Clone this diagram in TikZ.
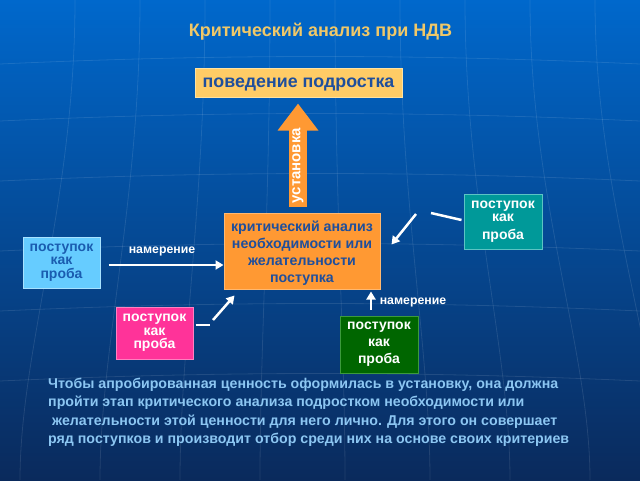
\documentclass[tikz,border=0pt]{standalone}
\usepackage{fontspec}
\setmainfont{Liberation Sans}
\usetikzlibrary{arrows.meta,calc}
\definecolor{bgtop}{HTML}{0068CC}
\definecolor{bgmid}{HTML}{0050A6}
\definecolor{bgbot}{HTML}{0A2A5C}
\definecolor{titlecol}{HTML}{F0C868}
\definecolor{behfill}{HTML}{FFCC66}
\definecolor{behdraw}{HTML}{FFE2A0}
\definecolor{behtext}{HTML}{1F4F9C}
\definecolor{orangefill}{HTML}{FF9933}
\definecolor{orangedraw}{HTML}{FFB870}
\definecolor{lbfill}{HTML}{66CCFF}
\definecolor{lbdraw}{HTML}{A8E2FF}
\definecolor{lbtext}{HTML}{1A5CB0}
\definecolor{pinkfill}{HTML}{FF3399}
\definecolor{pinkdraw}{HTML}{FF80C0}
\definecolor{tealfill}{HTML}{009999}
\definecolor{tealdraw}{HTML}{5CC4C4}
\definecolor{greenfill}{HTML}{006600}
\definecolor{greendraw}{HTML}{3C9A3C}
\definecolor{paracol}{HTML}{8CC6F2}
\begin{document}
\begin{tikzpicture}[x=1pt,y=-1pt,
  box/.style={line width=1pt, inner sep=0pt, align=center},
  warrow/.style={draw=white, line width=2.5pt, -{Triangle[length=8pt,width=9pt]}},
  wline/.style={draw=white, line width=2.5pt},
  lbl/.style={text=white, font=\bfseries\fontsize{12.3}{14}\selectfont, inner sep=0pt},
  gridline/.style={draw=white, opacity=0.10, line width=0.8pt},
]
\useasboundingbox (0,0) rectangle (640,480);
\shade[top color=bgtop, middle color=bgmid, bottom color=bgbot] (0,0) rectangle (640,480);
% faint background grid
\foreach \yy in {58,115,175,245,305,375} {
  \draw[gridline] (0,\yy+6) .. controls (220,\yy-4) and (420,\yy-4) .. (640,\yy+6);
}
\foreach \xx/\bx in {75/20,140/100,205/180,270/260,335/345,400/430,465/510,530/590,595/660} {
  \draw[gridline] (\xx,0) .. controls (\xx,200) and (\bx,350) .. (\bx,480);
}

% title
\node[text=titlecol, font=\bfseries\fontsize{18}{20}\selectfont, inner sep=0pt] (title) at (320.5,32) {Критический анализ при НДВ};

% behaviour box
\node[box, fill=behfill, draw=behdraw, minimum width=207pt, minimum height=29pt, text depth=0pt,
      text=behtext, font=\bfseries\fontsize{17.8}{20}\selectfont] (beh) at (298.5,82.5) {поведение подростка};

% central box
\node[box, fill=orangefill, draw=orangedraw, minimum width=156pt, minimum height=76pt] (crit) at (302,251) {};
\node[align=center, inner sep=0pt, text=behtext, font=\bfseries\fontsize{14.2}{17}\selectfont]
      (crittext) at ([yshift=-2pt]crit.center)
      {критический анализ\\необходимости или\\желательности\\поступка};

% big arrow "установка"
\coordinate (ustart) at (298,207);
\draw[orangefill, line width=18pt, -{Triangle[length=27pt,width=39pt]}]
  (ustart) -- ([yshift=-6pt]beh.south -| ustart)
  node[pos=0.40, rotate=90, text=white, font=\bfseries\fontsize{15}{16}\selectfont, inner sep=0pt] (ust) {установка};

% side boxes
\node[box, fill=lbfill, draw=lbdraw, minimum width=77pt, minimum height=51pt,
      text=lbtext, font=\bfseries\fontsize{14}{13.5}\selectfont] (lb) at (61.5,262.5) {поступок\\как\\проба};
\node[box, fill=pinkfill, draw=pinkdraw, minimum width=77pt, minimum height=52pt,
      text=white, font=\bfseries\fontsize{14}{13.5}\selectfont] (pink) at (154.5,333) {поступок\\как\\проба};
\node[box, fill=tealfill, draw=tealdraw, minimum width=78pt, minimum height=55pt,
      text=white, font=\bfseries\fontsize{14}{13}\selectfont] (teal) at (503,221.5) {поступок\\как\\[5pt]проба};
\node[box, fill=greenfill, draw=greendraw, minimum width=78pt, minimum height=57pt,
      text=white, font=\bfseries\fontsize{14}{17}\selectfont] (green) at (379,344.5) {поступок\\как\\проба};

% connectors
\draw[warrow] ([xshift=8pt,yshift=-2.5pt]lb.east) -- ([yshift=-2.5pt]lb.east -| crit.west);
\node[lbl] (lbl1) at (162,251) {намерение};

\coordinate (p1) at ([xshift=2pt,yshift=8pt]pink.east);
\coordinate (p2) at ([xshift=16pt,yshift=8pt]pink.east);
\draw[wline] (p1) -- (p2);
\coordinate (p3) at (213,320);
\draw[warrow] (p3) -- ([xshift=11pt,yshift=-6pt]crit.south west);

\coordinate (t1) at ([xshift=-2pt,yshift=1.5pt]teal.west);
\coordinate (t2) at (431,213);
\draw[wline] (t1) -- (t2);
\coordinate (t3) at (416,214);
\draw[warrow] (t3) -- ([xshift=11pt,yshift=45pt]crit.south east);

\coordinate (g1) at ([xshift=-8pt,yshift=6pt]green.north);
\draw[warrow] (g1) -- ([yshift=-2pt]g1 |- crit.south);
\node[lbl] (lbl2) at (413,302) {намерение};

% paragraph
\node[anchor=north west, align=left, inner sep=0pt, text=paracol,
      font=\bfseries\fontsize{14.2}{18.3}\selectfont] (para) at (48,378)
{Чтобы апробированная ценность оформилась в установку, она должна\\
пройти этап критического анализа подростком необходимости или\\
\hspace*{4pt}желательности этой ценности для него лично. Для этого он совершает\\
ряд поступков и производит отбор среди них на основе своих критериев};
\end{tikzpicture}
\end{document}
